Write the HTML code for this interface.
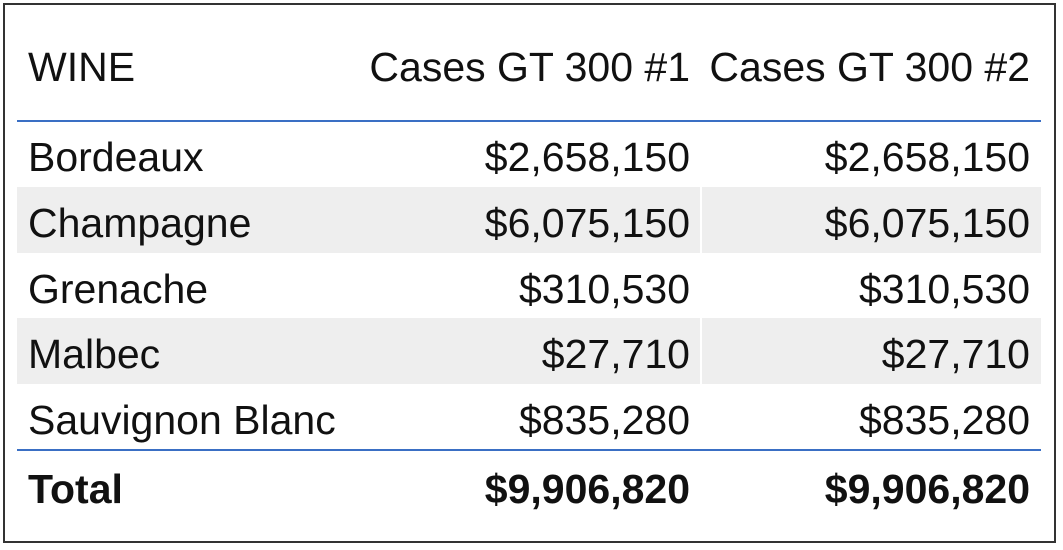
<!DOCTYPE html>
<html><head><meta charset="utf-8"><style>
body{margin:0;width:1063px;height:550px;background:#fff;position:relative;overflow:hidden;font-family:"Liberation Sans",sans-serif;color:#111;}
#frame{position:absolute;left:3px;top:3px;width:1053px;height:540px;border:2px solid #333;box-sizing:border-box;}
.row{position:absolute;left:17px;width:1024px;height:66px;}
.row.alt{background:#eeeeee;}
.vd{position:absolute;left:683px;top:0;width:2px;height:100%;background:#fff;}
.c{position:absolute;top:3px;font-size:41px;line-height:66px;white-space:nowrap;}
.c1{left:11px;}
.c2{right:351px;text-align:right;}
.c3{right:11px;text-align:right;}
.hline{position:absolute;left:17px;width:1024px;height:2px;background:#3a6fc4;}
.b{font-weight:bold;}
</style></head><body>
<div id="frame"></div>
<div class="row" style="top:31px">
 <span class="c c1">WINE</span>
 <span class="c c2">Cases GT 300 #1</span>
 <span class="c c3">Cases GT 300 #2</span>
</div>
<div class="hline" style="top:120px"></div>
<div id="rows"></div>
<div class="hline" style="top:449px"></div>
<div class="row" style="top:453px">
 <span class="c c1 b">Total</span>
 <span class="c c2 b">$9,906,820</span>
 <span class="c c3 b">$9,906,820</span>
</div>
<script>
const wines=["Bordeaux","Champagne","Grenache","Malbec","Sauvignon Blanc"];
const cases1=[2658150,6075150,310530,27710,835280];
const cases2=[2658150,6075150,310530,27710,835280];
const fmt=v=>"$"+v.toLocaleString("en-US");
const host=document.getElementById("rows");
wines.forEach((w,i)=>{
 const r=document.createElement("div");
 r.className="row"+(i%2?" alt":"");
 r.style.top=(121+i*65.8)+"px";
 
 
 if(i%2){const d=document.createElement("div");d.className="vd";
 
 
 r.appendChild(d);}
 const a=document.createElement("span");a.className="c c1";a.textContent=w;
 
 
 const b=document.createElement("span");b.className="c c2";b.textContent=fmt(cases1[i]);
 
 
 const c=document.createElement("span");c.className="c c3";c.textContent=fmt(cases2[i]);
 
 
 r.append(a,b,c);host.appendChild(r);
});
</script>
</body></html>
